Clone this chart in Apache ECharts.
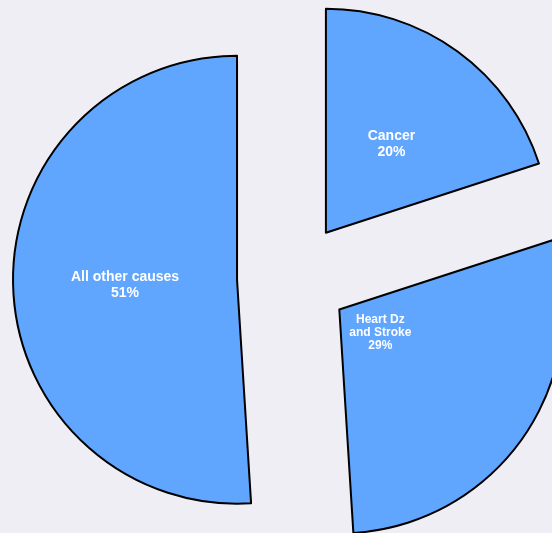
<!DOCTYPE html>
<html>
<head>
<meta charset="utf-8">
<script src="https://cdn.jsdelivr.net/npm/echarts@6/dist/echarts.min.js"></script>
<style>
html,body{margin:0;padding:0;background:#efeef4;}
#c{width:552px;height:533px;}
</style>
</head>
<body>
<div id="c"></div>
<script>
const categories = ['Cancer', 'Heart Dz\nand Stroke', 'All other causes'];
const values = [20, 29, 51];

const sliceColor = '#60a6ff';
const labelOffsets = [[-41, 23], [-71, -54], [-7, 5]];

const chart = echarts.init(document.getElementById('c'), null, {renderer: 'canvas'});
const data = categories.map((name, i) => {
  const small = i === 1;
  const lab = {
    show: true,
    position: 'inside',
    formatter: '{b}\n{d}%',
    color: '#ffffff',
    fontFamily: 'Liberation Sans, Arial, sans-serif',
    fontWeight: 'bold',
    fontSize: small ? 12 : 14,
    lineHeight: small ? 13 : 16,
    align: 'center',
    offset: labelOffsets[i]
  };
  return {
    name: name,
    value: values[i],
    selected: true,
    label: lab,
    select: {label: lab, itemStyle: {color: sliceColor, borderColor: '#000', borderWidth: 2}}
  };
});

chart.setOption({
  backgroundColor: '#efeef4',
  animation: false,
  series: [{
    type: 'pie',
    center: [293, 278],
    radius: [0, 224],
    startAngle: 90,
    clockwise: true,
    selectedMode: 'multiple',
    selectedOffset: 56,
    percentPrecision: 0,
    avoidLabelOverlap: false,
    labelLine: {show: false},
    itemStyle: {color: sliceColor, borderColor: '#000', borderWidth: 2},
    emphasis: {disabled: true},
    data: data
  }]
});
</script>
</body>
</html>
